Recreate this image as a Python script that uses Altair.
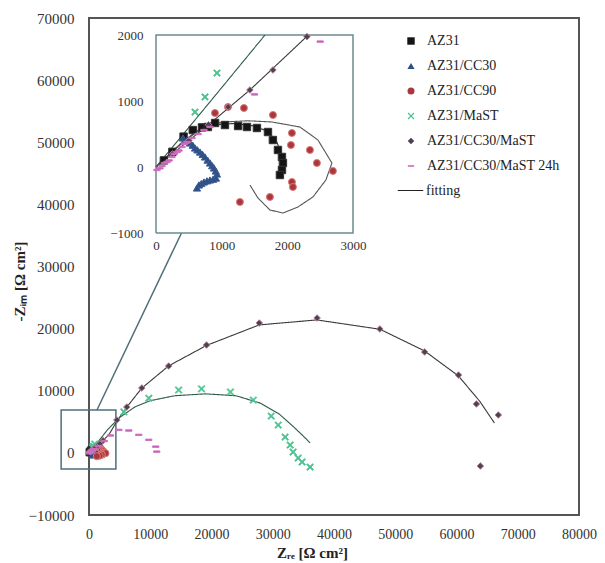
import altair as alt
import pandas as pd

# ---------------- series definitions ----------------
series_names = ["AZ31", "AZ31/CC30", "AZ31/CC90", "AZ31/MaST", "AZ31/CC30/MaST", "AZ31/CC30/MaST 24h"]
series_colors = ["#151515", "#2d4f86", "#a8383c", "#45c08a", "#4e3f52", "#c654b4"]
series_halo = ["#333333", "#3a5a90", "#e07878", "#58c898", "#b08090", "#d070c0"]
x_shape = "M-1,-0.75L-0.75,-1L0,-0.25L0.75,-1L1,-0.75L0.25,0L1,0.75L0.75,1L0,0.25L-0.75,1L-1,0.75L-0.25,0Z"
dash_shape = "M-1,-0.22L1,-0.22L1,0.22L-1,0.22Z"
series_shapes = ["square", "triangle-up", "circle", x_shape, "diamond", dash_shape]
series_sizes = [55, 40, 80, 60, 70, 60]

# ---------------- measured data (Z_Re, -Z_im) [ohm cm2] ----------------
az31_zre = [120, 250, 420, 560, 700, 790, 900, 1050, 1250, 1385, 1537, 1705, 1780, 1857, 1918, 1933, 1918, 1887]
az31_zim = [100, 230, 460, 560, 600, 606, 667, 636, 621, 606, 591, 530, 409, 258, 152, 61, -45, -121]

cc30_zre = [411, 470, 517, 560, 594, 630, 670, 710, 746, 785, 822, 855, 883, 910, 928, 913, 870, 822, 776, 730, 690, 654, 624]
cc30_zim = [440, 400, 364, 330, 288, 260, 227, 190, 152, 105, 61, 20, -15, -60, -106, -167, -185, -197, -210, -227, -250, -272, -318]

cc90_zre = [898, 1096, 1339, 1781, 2070, 2055, 2344, 2450, 2694, 2070, 2085, 1735, 1278]
cc90_zim = [818, 909, 894, 788, 515, 333, 258, 61, -60, -227, -303, -454, -530]

mast_zre = [594, 746, 928, 5690, 9760, 14630, 18370, 23090, 26830, 29760, 30900, 32030, 32850, 33330, 34150, 34800, 36100]
mast_zim = [833, 1061, 1424, 6600, 8800, 10120, 10300, 9800, 8500, 5930, 4480, 2550, 1270, 140, -830, -1470, -2280]

cc30mast_zre = [250, 500, 800, 1100, 1430, 1781, 2298, 4550, 6180, 8620, 13010, 19190, 27800, 37240, 47480, 54800, 60330, 63250, 66830, 63900]
cc30mast_zim = [200, 400, 640, 910, 1167, 1470, 1975, 5290, 7380, 10440, 13980, 17360, 20900, 21710, 19940, 16240, 12530, 7870, 6100, -2120]

h24_zre = [15, 60, 91, 130, 167, 200, 243, 280, 320, 350, 396, 430, 472, 548, 640, 730, 822, 1500, 2500, 3500, 4880, 6500, 8130, 9760, 10900, 11060]
h24_zim = [-45, -20, 15, 60, 76, 100, 152, 200, 227, 250, 303, 350, 379, 440, 500, 560, 606, 1100, 1900, 2800, 3700, 3600, 2900, 2100, 1000, 200]

# ---------------- fitted curves ----------------
fit_cc30mast_zre = [0, 250, 800, 1430, 2320, 3300, 4550, 6200, 8600, 13000, 19200, 27800, 37200, 47500, 54800, 60300, 63800, 66200]
fit_cc30mast_zim = [0, 200, 640, 1167, 2000, 3000, 5100, 7400, 10400, 14000, 17300, 20600, 21400, 19900, 16400, 12400, 8300, 4800]

fit_mast_zre = [0, 800, 1660, 3000, 5000, 7500, 10000, 14000, 19000, 24000, 28000, 31000, 33500, 35200, 36100]
fit_mast_zim = [0, 960, 2000, 3700, 5700, 7400, 8400, 9200, 9500, 9200, 8000, 6300, 4100, 2500, 1600]

fit_az31_zre = [0, 300, 600, 900, 1200, 1500, 1700, 1830, 1900, 1930, 1910, 1880]
fit_az31_zim = [0, 280, 520, 640, 660, 620, 540, 400, 230, 60, -80, -150]

fit_cc90_zre = [0, 400, 700, 1020, 1400, 1766, 2192, 2466, 2679, 2587, 2390, 2161, 1933, 1735, 1552, 1430]
fit_cc90_zim = [0, 380, 600, 682, 700, 682, 606, 409, 61, -197, -454, -606, -697, -651, -469, -272]

fit_names = ["cc30mast", "mast", "az31", "cc90"]
fit_colors = ["#3a3a3a", "#2f5a48", "#333333", "#555555"]

# zoom box, connector (main-plot data coordinates) and inset frame (inset coordinates)
box_zre = [-4550, 4390]
box_zim = [-2600, 6900]
link_zre = [1300, 15100]
link_zim = [6900, 35400]
frame_zre = [0, 3000, 3000, 0, 0]
frame_zim = [-1000, -1000, 2000, 2000, -1000]

# ---------------- tables ----------------
pts = pd.concat([
    pd.DataFrame({"series": s, "zre": x, "zim": y})
    for s, x, y in zip(series_names,
                       [az31_zre, cc30_zre, cc90_zre, mast_zre, cc30mast_zre, h24_zre],
                       [az31_zim, cc30_zim, cc90_zim, mast_zim, cc30mast_zim, h24_zim])
], ignore_index=True)

fits = {}
for n, x, y in zip(fit_names,
                   [fit_cc30mast_zre, fit_mast_zre, fit_az31_zre, fit_cc90_zre],
                   [fit_cc30mast_zim, fit_mast_zim, fit_az31_zim, fit_cc90_zim]):
    fits[n] = pd.DataFrame({"zre": x, "zim": y, "idx": range(len(x)), "kind": "fitting"})

box_df = pd.DataFrame({"zre": [box_zre[0]], "zre2": [box_zre[1]], "zim": [box_zim[0]], "zim2": [box_zim[1]]})
link_df = pd.DataFrame({"zre": link_zre, "zim": link_zim, "idx": [0, 1]})
frame_df = pd.DataFrame({"zre": frame_zre, "zim": frame_zim, "idx": range(len(frame_zre))})

W, H = 490, 497
FONT = "Liberation Serif"

# ---------------- main scales / axes ----------------
mx_scale = alt.Scale(domain=[0, 80000], nice=False, zero=False)
my_scale = alt.Scale(domain=[-10000, 70000], nice=False, zero=False)
mx_axis = alt.Axis(values=list(range(0, 80001, 10000)), format="d", grid=False, domain=False,
                   ticks=False, tickSize=0, labelPadding=12, labelFontSize=14, labelColor="#333",
                   labelFlush=False,
                   title="Zᵣₑ [Ω cm²]", titleFontSize=15, titleFontWeight="bold", titleColor="#222",
                   titleX=223, titleY=30, titleAnchor="middle")
my_axis = alt.Axis(values=list(range(-10000, 70001, 10000)), format="d", grid=False, domain=False,
                   ticks=False, tickSize=0, labelPadding=15, labelFontSize=15, labelColor="#333",
                   title="-Zᵢₘ [Ω cm²]", titleFontSize=15, titleFontWeight="bold", titleColor="#222",
                   titleX=-62, titleY=263, titleAnchor="middle")

MX = alt.X("zre:Q", scale=mx_scale, axis=mx_axis)
MY = alt.Y("zim:Q", scale=my_scale, axis=my_axis)

legend_pts = alt.Legend(title=None, orient="none", legendX=315, legendY=16, padding=0,
                        labelFontSize=14, labelFont=FONT, labelColor="#222", labelOffset=9,
                        rowPadding=11, symbolSize=50, symbolStrokeWidth=0)
color_enc = alt.Color("series:N", scale=alt.Scale(domain=series_names, range=series_colors), legend=legend_pts)
shape_enc = alt.Shape("series:N", scale=alt.Scale(domain=series_names, range=series_shapes), legend=legend_pts)
stroke_enc = alt.Stroke("series:N", scale=alt.Scale(domain=series_names, range=series_halo), legend=None)
size_enc = alt.Size("series:N", scale=alt.Scale(domain=series_names, range=series_sizes), legend=None)

legend_fit = alt.Legend(title=None, orient="none", legendX=308, legendY=159, padding=0,
                        labelFontSize=14, labelFont=FONT, labelColor="#222", labelOffset=2,
                        symbolSize=650, symbolStrokeColor="#222", symbolStrokeWidth=1.2)
dash_enc = alt.StrokeDash("kind:N", scale=alt.Scale(domain=["fitting"], range=[[1, 0]]), legend=legend_fit)

main_layers = []
main_layers.append(alt.Chart(box_df).mark_rect(fillOpacity=0, stroke="#4f6f78", strokeWidth=1.5).encode(
    x=MX, x2="zre2", y=MY, y2="zim2"))
main_layers.append(alt.Chart(link_df).mark_line(color="#4f6f78", strokeWidth=1.5).encode(
    x=MX, y=MY, order="idx:Q"))
for n, c in zip(fit_names, fit_colors):
    main_layers.append(alt.Chart(fits[n]).mark_line(color=c, strokeWidth=1.1).encode(
        x=MX, y=MY, order="idx:Q", strokeDash=dash_enc))
main_layers.append(alt.Chart(pts).mark_point(filled=True, opacity=1, strokeWidth=1).encode(
    x=MX, y=MY, color=color_enc, shape=shape_enc, stroke=stroke_enc, size=size_enc))
main = alt.layer(*main_layers)

# ---------------- inset scales / axes ----------------
ix_scale = alt.Scale(domain=[0, 3000], range=[67, 264], nice=False, zero=False)
iy_scale = alt.Scale(domain=[-1000, 2000], range=[215, 17], nice=False, zero=False)
ix_axis = alt.Axis(orient="bottom", offset=215 - H, values=[0, 1000, 2000, 3000], format="d", grid=False,
                   domain=False, ticks=False, tickSize=0, labelPadding=6, labelFontSize=13,
                   labelColor="#333", labelFlush=False, title=None)
iy_axis = alt.Axis(orient="left", offset=-67, values=[-1000, 0, 1000, 2000], format="d", grid=False,
                   domain=False, ticks=False, tickSize=0, labelPadding=13, labelFontSize=13,
                   labelColor="#333", title=None)
IX = alt.X("zre:Q", scale=ix_scale, axis=ix_axis)
IY = alt.Y("zim:Q", scale=iy_scale, axis=iy_axis)
in_range = "datum.zre >= -20 && datum.zre <= 3000 && datum.zim >= -1000 && datum.zim <= 2000"

inset_layers = []
inset_layers.append(alt.Chart(frame_df).mark_line(color="#6b8a90", strokeWidth=1.5).encode(
    x=IX, y=IY, order="idx:Q"))
for n, c in zip(fit_names, fit_colors):
    inset_layers.append(alt.Chart(fits[n]).transform_filter(in_range).mark_line(color=c, strokeWidth=1.1).encode(
        x=IX, y=IY, order="idx:Q", strokeDash=dash_enc))
inset_layers.append(alt.Chart(pts).transform_filter(in_range).mark_point(filled=True, opacity=1, strokeWidth=1).encode(
    x=IX, y=IY, color=color_enc, shape=shape_enc, stroke=stroke_enc, size=size_enc))
inset = alt.layer(*inset_layers)

chart = alt.layer(main, inset).resolve_scale(x="independent", y="independent").properties(
    width=W, height=H, autosize=alt.AutoSizeParams(type="none"),
    padding={"left": 81, "top": 10, "right": 18, "bottom": 48}
).configure(font=FONT).configure_view(stroke="#555555", strokeWidth=2, fill="white").configure_axis(
    labelFont=FONT, titleFont=FONT)

chart.save("out.html", embed_options={"renderer": "svg", "actions": False})
